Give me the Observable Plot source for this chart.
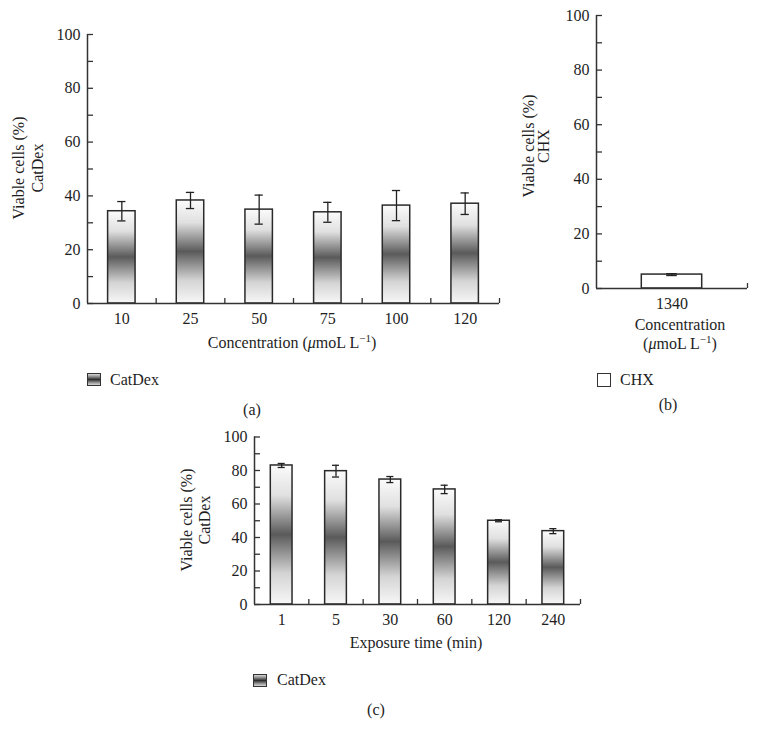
<!DOCTYPE html>
<html>
<head>
<meta charset="utf-8">
<script src="https://cdn.jsdelivr.net/npm/d3@7"></script>
<script src="https://cdn.jsdelivr.net/npm/@observablehq/plot@0.6"></script>
<style>
  body { margin: 0; background: #fff; }
  #root { position: relative; width: 757px; height: 743px; background: #fff; overflow: hidden;
          font-family: "Liberation Serif", "DejaVu Serif", serif; font-size: 16px; color: #1e1e1e; }
  #root svg { position: absolute; }
  .t { position: absolute; white-space: nowrap; }
  .sw { position: absolute; box-sizing: border-box; border: 1.3px solid #333; }
  sup { font-size: 11px; vertical-align: 0; position: relative; top: -6px; }
</style>
</head>
<body>
<div id="root"></div>
<script>
// ---- data ----
const catA = ["10", "25", "50", "75", "100", "120"];
const valA = [34.3, 38.3, 34.9, 33.9, 36.4, 37.1];
const errA = [3.6, 3.0, 5.4, 3.7, 5.6, 4.0];

const catB = ["1340"];
const valB = [5.1];
const errB = [0.35];

const catC = ["1", "5", "30", "60", "120", "240"];
const valC = [83.0, 79.6, 74.6, 68.7, 50.0, 43.8];
const errC = [1.2, 3.5, 1.8, 2.5, 0.6, 1.5];

const yMajor = [0, 20, 40, 60, 80, 100];
const yMinor = [10, 30, 50, 70, 90];

const root = document.getElementById("root");

function panel(o) {
  const n = o.cats.length;
  const data = o.cats.map((c, i) => ({i, c, v: o.vals[i], e: o.errs[i]}));
  const svg = Plot.plot({
    width: o.width, height: o.height,
    marginLeft: o.ml, marginRight: o.mr, marginTop: o.mt, marginBottom: o.mb,
    style: {fontFamily: "'Liberation Serif', 'DejaVu Serif', serif", fontSize: "16px", color: "#1e1e1e", background: "transparent", overflow: "visible"},
    x: {domain: [0, n], axis: null},
    y: {domain: [0, 100], axis: null},
    marks: [
      Plot.rectY(data, {x1: d => d.i + 0.3, x2: d => d.i + 0.7, y: "v", fill: o.fill, stroke: "#2a2a2a", strokeWidth: 1.5}),
      Plot.ruleX(data, {x: d => d.i + 0.5, y1: d => d.v - d.e, y2: d => d.v + d.e, stroke: "#222", strokeWidth: 1.3}),
      Plot.ruleY(data, {y: d => d.v + d.e, x1: d => d.i + 0.5 - o.cap, x2: d => d.i + 0.5 + o.cap, stroke: "#222", strokeWidth: 1.3}),
      Plot.ruleY(data, {y: d => d.v - d.e, x1: d => d.i + 0.5 - o.cap, x2: d => d.i + 0.5 + o.cap, stroke: "#222", strokeWidth: 1.3}),
      Plot.axisY({ticks: yMajor, tickSize: 0, tickPadding: 7, tickFormat: d => String(d), label: null, fill: "#1e1e1e"}),
      Plot.axisY({ticks: yMajor.concat(yMinor), tickSize: -6, tickFormat: () => "", label: null, stroke: "#333", strokeWidth: 1.3}),
      Plot.axisX({ticks: d3.range(n).map(i => i + 0.5), tickSize: 0, tickPadding: 9, tickFormat: d => o.cats[Math.floor(d)], label: null, fill: "#1e1e1e"}),
      Plot.axisX({ticks: d3.range(1, n + 1), tickSize: -5, tickFormat: () => "", label: null, stroke: "#333", strokeWidth: 1.3}),
      Plot.ruleX([0], {y1: 0, y2: 100, stroke: "#333", strokeWidth: 1.5}),
      Plot.ruleY([0], {stroke: "#333", strokeWidth: 1.5})
    ]
  });
  if (o.gradId) {
    const defs = d3.select(svg).insert("defs", ":first-child");
    const g = defs.append("linearGradient").attr("id", o.gradId)
      .attr("x1", 0).attr("y1", 0).attr("x2", 0).attr("y2", 1);
    [[0, "#fbfbfb"], [0.22, "#e0e0e0"], [0.5, "#5a5a5a"], [0.78, "#d4d4d4"], [1, "#f7f7f7"]]
      .forEach(([off, col]) => g.append("stop").attr("offset", off).attr("stop-color", col));
  }
  svg.style.left = o.left + "px";
  svg.style.top = o.top + "px";
  root.appendChild(svg);
}

panel({cats: catA, vals: valA, errs: errA, width: 512, height: 345, ml: 87, mr: 13, mt: 34, mb: 42,
       left: 0, top: 0, cap: 0.06, fill: "url(#gradA)", gradId: "gradA"});
panel({cats: catB, vals: valB, errs: errB, width: 257, height: 320, ml: 96, mr: 10, mt: 15, mb: 32,
       left: 500, top: 0, cap: 0.035, fill: "white"});
panel({cats: catC, vals: valC, errs: errC, width: 430, height: 220, ml: 94, mr: 10, mt: 16.5, mb: 36,
       left: 160, top: 420, cap: 0.065, fill: "url(#gradC)", gradId: "gradC"});

// ---- text ----
function center(html, cx, cy, extra = {}) {
  const d = document.createElement("div");
  d.className = "t";
  d.innerHTML = html;
  d.style.left = cx + "px";
  d.style.top = cy + "px";
  d.style.textAlign = "center";
  d.style.transform = "translate(-50%,-50%)" + (extra.rotate ? " rotate(-90deg)" : "");
  if (extra.lh) d.style.lineHeight = extra.lh + "px";
  if (extra.fs) d.style.fontSize = extra.fs + "px";
  root.appendChild(d);
}
function leftText(html, x, cy) {
  const d = document.createElement("div");
  d.className = "t";
  d.innerHTML = html;
  d.style.left = x + "px";
  d.style.top = cy + "px";
  d.style.transform = "translateY(-50%)";
  root.appendChild(d);
}
function swatch(x, y, w, h, bg) {
  const d = document.createElement("div");
  d.className = "sw";
  d.style.left = x + "px"; d.style.top = y + "px";
  d.style.width = w + "px"; d.style.height = h + "px";
  d.style.background = bg;
  root.appendChild(d);
}
const unit = "(<i>μ</i>moL L<sup>−1</sup>)";
const grad = "linear-gradient(to bottom, #d8d8d8 0%, #8a8a8a 25%, #2e2e2e 50%, #8a8a8a 75%, #d8d8d8 100%)";

// panel (a)
center("Viable cells (%)<br>CatDex", 28, 168, {rotate: true, lh: 18.5});
center("Concentration " + unit, 292, 343);
swatch(87, 373, 14, 13, grad);
leftText("CatDex", 110, 380);
center("(a)", 252, 410);

// panel (b)
center("Viable cells (%)<br>CHX", 536, 146, {rotate: true, lh: 15});
center("Concentration", 680, 325);
center(unit, 680, 344);
swatch(597, 373, 14, 14, "#fff");
leftText("CHX", 620, 380);
center("(b)", 668, 405);

// panel (c)
center("Viable cells (%)<br>CatDex", 196, 520, {rotate: true, lh: 18});
center("Exposure time (min)", 416, 643);
swatch(253, 674, 14, 13, grad);
leftText("CatDex", 277, 680);
center("(c)", 376, 710);
</script>
</body>
</html>
